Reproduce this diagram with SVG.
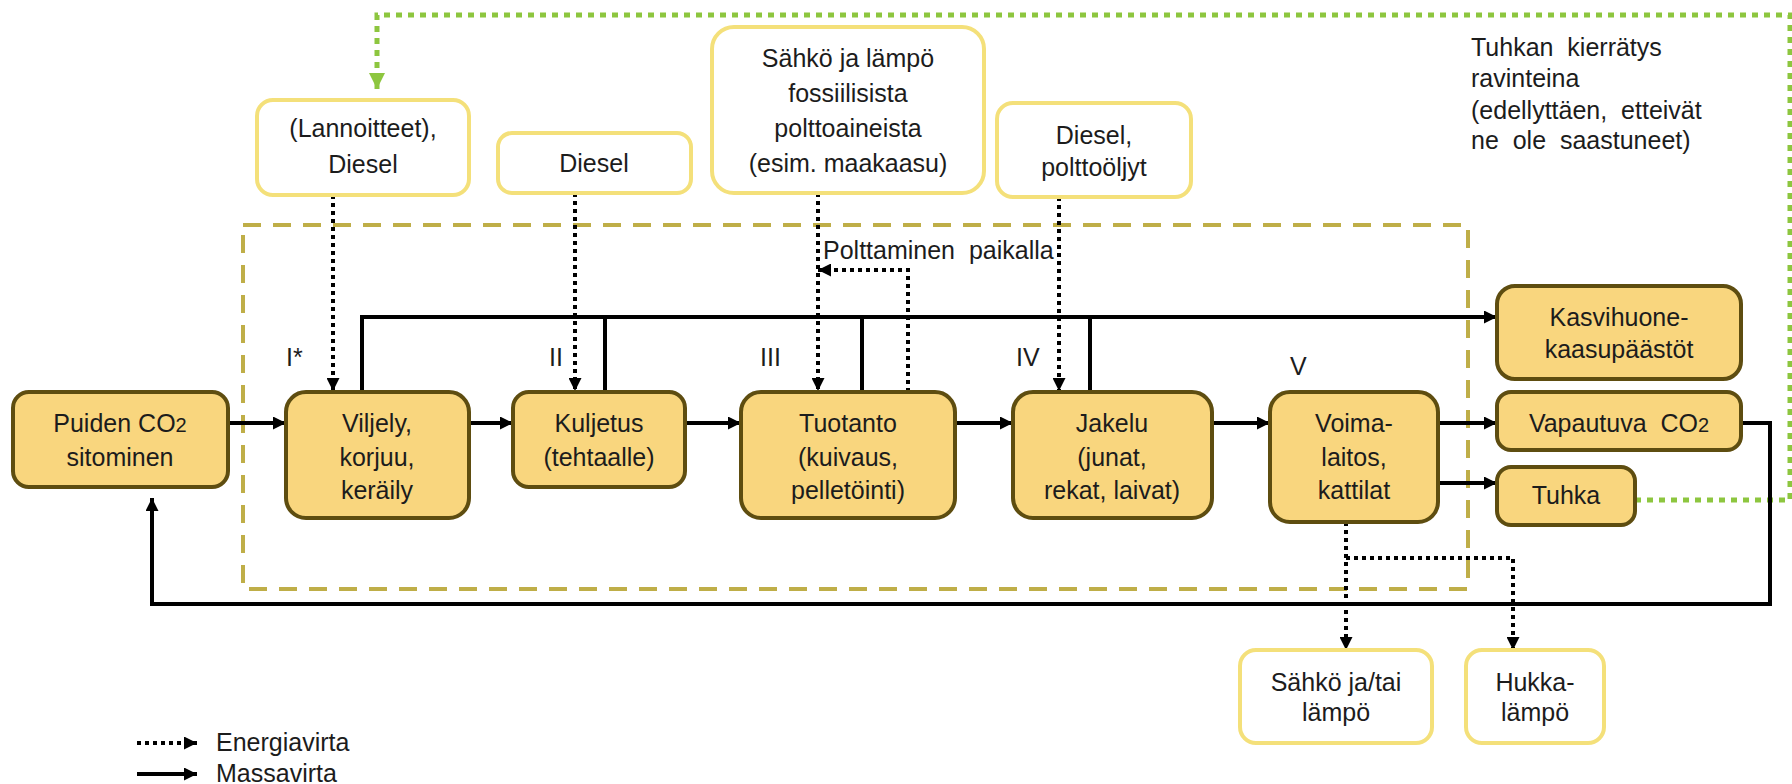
<svg xmlns="http://www.w3.org/2000/svg" width="1792" height="784" viewBox="0 0 1792 784">
<defs>
<style>
text{font-family:"Liberation Sans",Arial,sans-serif;font-size:25px;fill:#1c1c1c}
.c{text-anchor:middle}
.main{fill:#F9D67E;stroke:#5E4D10;stroke-width:4}
.inp{fill:#fff;stroke:#F4E07A;stroke-width:4}
.mass{fill:none;stroke:#000;stroke-width:4}
.en{fill:none;stroke:#000;stroke-width:4;stroke-dasharray:4 4}
.gr{fill:none;stroke:#8DC63F;stroke-width:5;stroke-dasharray:6 6}
.bound{fill:none;stroke:#BFAE48;stroke-width:4;stroke-dasharray:18 12}
</style>
<marker id="ah" viewBox="0 0 10 10" refX="10" refY="5" markerWidth="14" markerHeight="13" markerUnits="userSpaceOnUse" orient="auto"><path d="M0,0L10,5L0,10z" fill="#000"/></marker>
<marker id="ag" viewBox="0 0 10 10" refX="10" refY="5" markerWidth="18" markerHeight="16" markerUnits="userSpaceOnUse" orient="auto"><path d="M0,0L10,5L0,10z" fill="#8DC63F"/></marker>
</defs>
<rect width="1792" height="784" fill="#fff"/>

<rect id="boundary" class="bound" x="243" y="225" width="1225" height="364"/>

<g id="connectors">
<!-- green ash recycling -->
<path class="gr" d="M1635,500H1790V15H377V76" />
<path d="M377,76V89" stroke="#8DC63F" stroke-width="5" marker-end="url(#ag)"/>
<!-- emissions bus -->
<path class="mass" d="M362,392V317H1497" marker-end="url(#ah)"/>
<path class="mass" d="M605,392V317"/>
<path class="mass" d="M862,392V317"/>
<path class="mass" d="M1090,392V317"/>
<!-- main flow -->
<path class="mass" d="M228,423H286" marker-end="url(#ah)"/>
<path class="mass" d="M469,423H513" marker-end="url(#ah)"/>
<path class="mass" d="M685,423H741" marker-end="url(#ah)"/>
<path class="mass" d="M955,423H1013" marker-end="url(#ah)"/>
<path class="mass" d="M1212,423H1270" marker-end="url(#ah)"/>
<path class="mass" d="M1438,423H1497" marker-end="url(#ah)"/>
<path class="mass" d="M1438,483H1497" marker-end="url(#ah)"/>
<!-- CO2 return -->
<path class="mass" d="M1741,423H1770V604H152V498" marker-end="url(#ah)"/>
<!-- energy inputs -->
<path class="en" d="M333,195V391" marker-end="url(#ah)"/>
<path class="en" d="M575,193V391" marker-end="url(#ah)"/>
<path class="en" d="M818,193V391" marker-end="url(#ah)"/>
<path class="en" d="M908,392V270H818" marker-end="url(#ah)"/>
<path class="en" d="M1059,197V391" marker-end="url(#ah)"/>
<!-- energy outputs -->
<path class="en" d="M1346,522V650" marker-end="url(#ah)"/>
<path class="en" d="M1346,558H1513V650" marker-end="url(#ah)"/>
</g>

<g id="n-lannoitteet"><rect class="inp" x="257" y="100" width="212" height="95" rx="16"/><text class="c" x="363" y="137">(Lannoitteet),</text><text class="c" x="363" y="173">Diesel</text></g>
<g id="n-diesel1"><rect class="inp" x="498" y="133" width="193" height="60" rx="14"/><text class="c" x="594" y="172">Diesel</text></g>
<g id="n-sahko"><rect class="inp" x="712" y="27" width="272" height="166" rx="22"/><text class="c" x="848" y="67">Sähkö ja lämpö</text><text class="c" x="848" y="102">fossiilisista</text><text class="c" x="848" y="137">polttoaineista</text><text class="c" x="848" y="172">(esim. maakaasu)</text></g>
<g id="n-diesel2"><rect class="inp" x="997" y="103" width="194" height="94" rx="16"/><text class="c" x="1094" y="144">Diesel,</text><text class="c" x="1094" y="176">polttoöljyt</text></g>

<g id="n-puiden"><rect class="main" x="13" y="392" width="215" height="95" rx="16"/><text class="c" x="120" y="432">Puiden CO<tspan font-size="20">2</tspan></text><text class="c" x="120" y="466">sitominen</text></g>
<g id="n-viljely"><rect class="main" x="286" y="392" width="183" height="126" rx="20"/><text class="c" x="377" y="432">Viljely,</text><text class="c" x="377" y="466">korjuu,</text><text class="c" x="377" y="499">keräily</text></g>
<g id="n-kuljetus"><rect class="main" x="513" y="392" width="172" height="95" rx="16"/><text class="c" x="599" y="432">Kuljetus</text><text class="c" x="599" y="466">(tehtaalle)</text></g>
<g id="n-tuotanto"><rect class="main" x="741" y="392" width="214" height="126" rx="20"/><text class="c" x="848" y="432">Tuotanto</text><text class="c" x="848" y="466">(kuivaus,</text><text class="c" x="848" y="499">pelletöinti)</text></g>
<g id="n-jakelu"><rect class="main" x="1013" y="392" width="199" height="126" rx="20"/><text class="c" x="1112" y="432">Jakelu</text><text class="c" x="1112" y="466">(junat,</text><text class="c" x="1112" y="499">rekat, laivat)</text></g>
<g id="n-voima"><rect class="main" x="1270" y="392" width="168" height="130" rx="20"/><text class="c" x="1354" y="432">Voima-</text><text class="c" x="1354" y="466">laitos,</text><text class="c" x="1354" y="499">kattilat</text></g>
<g id="n-kasvihuone"><rect class="main" x="1497" y="286" width="244" height="93" rx="18"/><text class="c" x="1619" y="326">Kasvihuone-</text><text class="c" x="1619" y="358">kaasupäästöt</text></g>
<g id="n-vapautuva"><rect class="main" x="1497" y="392" width="244" height="58" rx="14"/><text class="c" x="1619" y="432">Vapautuva&#160; CO<tspan font-size="20">2</tspan></text></g>
<g id="n-tuhka"><rect class="main" x="1497" y="467" width="138" height="58" rx="14"/><text class="c" x="1566" y="504">Tuhka</text></g>
<g id="n-sahko-out"><rect class="inp" x="1240" y="650" width="192" height="93" rx="16"/><text class="c" x="1336" y="691">Sähkö ja/tai</text><text class="c" x="1336" y="721">lämpö</text></g>
<g id="n-hukka"><rect class="inp" x="1466" y="650" width="138" height="93" rx="16"/><text class="c" x="1535" y="691">Hukka-</text><text class="c" x="1535" y="721">lämpö</text></g>

<g id="labels">
<text x="286" y="366">I*</text>
<text x="549" y="366">II</text>
<text x="760" y="366">III</text>
<text x="1016" y="366">IV</text>
<text x="1290" y="375">V</text>
<text x="823" y="259">Polttaminen&#160; paikalla</text>
<text x="1471" y="56">Tuhkan&#160; kierrätys</text>
<text x="1471" y="87">ravinteina</text>
<text x="1471" y="119">(edellyttäen,&#160; etteivät</text>
<text x="1471" y="149">ne&#160; ole&#160; saastuneet)</text>
</g>

<g id="legend">
<path class="en" d="M137,743H197" marker-end="url(#ah)"/>
<path class="mass" d="M137,774H197" marker-end="url(#ah)"/>
<text x="216" y="751">Energiavirta</text>
<text x="216" y="782">Massavirta</text>
</g>
</svg>
